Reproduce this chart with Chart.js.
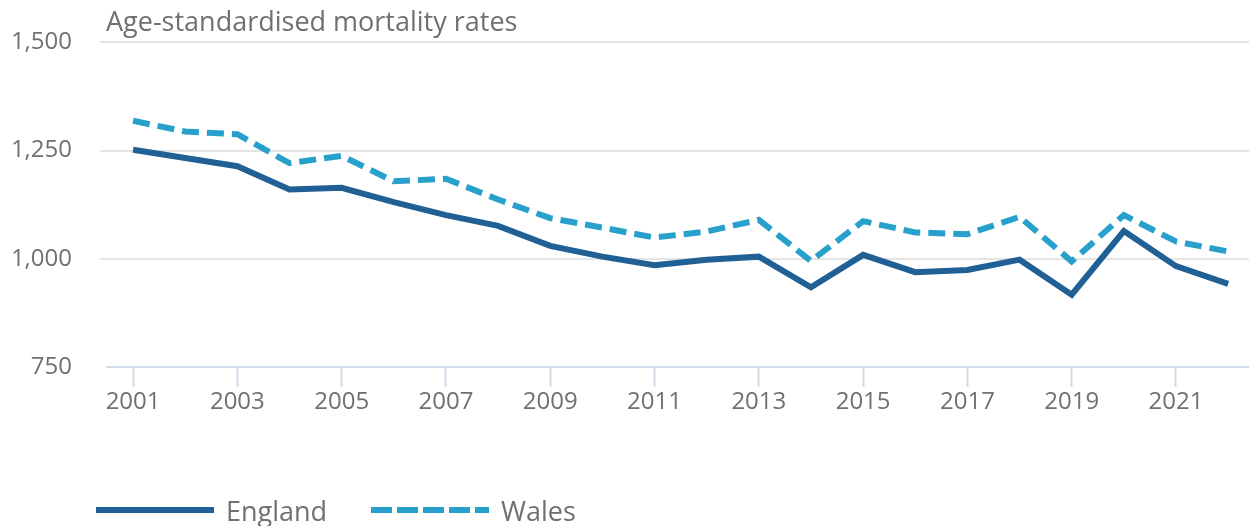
<!DOCTYPE html>
<html>
<head>
<meta charset="utf-8">
<script src="https://cdn.jsdelivr.net/npm/chart.js@4/dist/chart.umd.min.js"></script>
<style>
  body { margin: 0; background: #fff; }
  #wrap { position: relative; width: 1249px; height: 526px; }
</style>
</head>
<body>
<div id="wrap"><canvas id="chartLine"></canvas></div>
<script>
const years = [2001, 2002, 2003, 2004, 2005, 2006, 2007, 2008, 2009, 2010, 2011,
  2012, 2013, 2014, 2015, 2016, 2017, 2018, 2019, 2020, 2021, 2022];
const england = [1252, 1233, 1214, 1160, 1164, 1131, 1101, 1076, 1030, 1005, 985,
  998, 1005, 934, 1009, 969, 974, 998, 917, 1064, 983, 942];
const wales = [1319, 1294, 1288, 1221, 1238, 1179, 1185, 1137, 1094, 1072, 1049,
  1063, 1090, 995, 1087, 1061, 1057, 1097, 994, 1101, 1040, 1017];
const yearTicks = [2001, 2003, 2005, 2007, 2009, 2011, 2013, 2015, 2017, 2019, 2021];
const rateTicks = [750, 1000, 1250, 1500];
const chartTitle = "Age-standardised mortality rates";

const textColour = "#707070";
const font = '"Open Sans", sans-serif';

const toPoints = (vals) => vals.map((v, i) => ({ x: years[i], y: v }));

const data = {
  datasets: [
    {
      label: "England",
      data: toPoints(england),
      borderColor: "#206095",
      borderWidth: 6,
      pointRadius: 0,
      keyDash: [],
    },
    {
      label: "Wales",
      data: toPoints(wales),
      borderColor: "#27a0cc",
      borderWidth: 6,
      borderDash: [17, 8],
      pointRadius: 0,
      keyDash: [21, 5],
    },
  ],
};

// title above the plot and the key underneath
const overlay = {
  id: "overlay",
  afterDraw(chart) {
    const ctx = chart.ctx;
    ctx.save();
    ctx.fillStyle = textColour;
    ctx.font = "27px " + font;
    ctx.textBaseline = "alphabetic";
    ctx.fillText(chartTitle, 106, 31);

    const keyX = [96, 371];
    chart.data.datasets.forEach((ds, i) => {
      const x = keyX[i];
      ctx.beginPath();
      ctx.setLineDash(ds.keyDash);
      ctx.lineWidth = 6;
      ctx.strokeStyle = ds.borderColor;
      ctx.moveTo(x, 510);
      ctx.lineTo(x + 118, 510);
      ctx.stroke();
      ctx.setLineDash([]);
      ctx.fillStyle = textColour;
      ctx.fillText(ds.label, x + 130, 521);
    });
    ctx.restore();
  },
};

const configLineChart = {
  type: "line",
  data,
  plugins: [overlay],
  options: {
    responsive: true,
    maintainAspectRatio: false,
    animation: false,
    layout: { padding: { top: 37, bottom: 109, left: 0, right: 0 } },
    plugins: {
      legend: { display: false },
      tooltip: { enabled: false },
    },
    scales: {
      x: {
        type: "linear",
        min: 2000.5,
        max: 2022.4,
        afterBuildTicks: (axis) => {
          axis.ticks = yearTicks.map((v) => ({ value: v }));
        },
        afterFit: (axis) => {
          axis.height = 50;
        },
        border: { display: true, color: "#d0daea", width: 2 },
        grid: {
          drawOnChartArea: false,
          drawTicks: true,
          tickLength: 20,
          tickColor: "#d0daea",
          tickWidth: 2,
        },
        ticks: {
          color: textColour,
          font: { family: font, size: 24 },
          padding: 1,
          maxRotation: 0,
          callback: (v) => String(v),
        },
      },
      y: {
        min: 750,
        max: 1500,
        afterBuildTicks: (axis) => {
          axis.ticks = rateTicks.map((v) => ({ value: v }));
        },
        afterFit: (axis) => {
          axis.width = 107;
        },
        border: { display: false },
        grid: {
          color: (c) => (c.tick && c.tick.value === 750 ? "rgba(0,0,0,0)" : "#e4e4e4"),
          lineWidth: 2,
          drawTicks: true,
          tickLength: 7,
        },
        ticks: {
          color: textColour,
          font: { family: font, size: 24 },
          padding: 28,
          callback: (v) => v.toLocaleString("en-GB"),
        },
      },
    },
  },
};

var chartLine = new Chart(document.getElementById("chartLine"), configLineChart);
</script>
</body>
</html>
